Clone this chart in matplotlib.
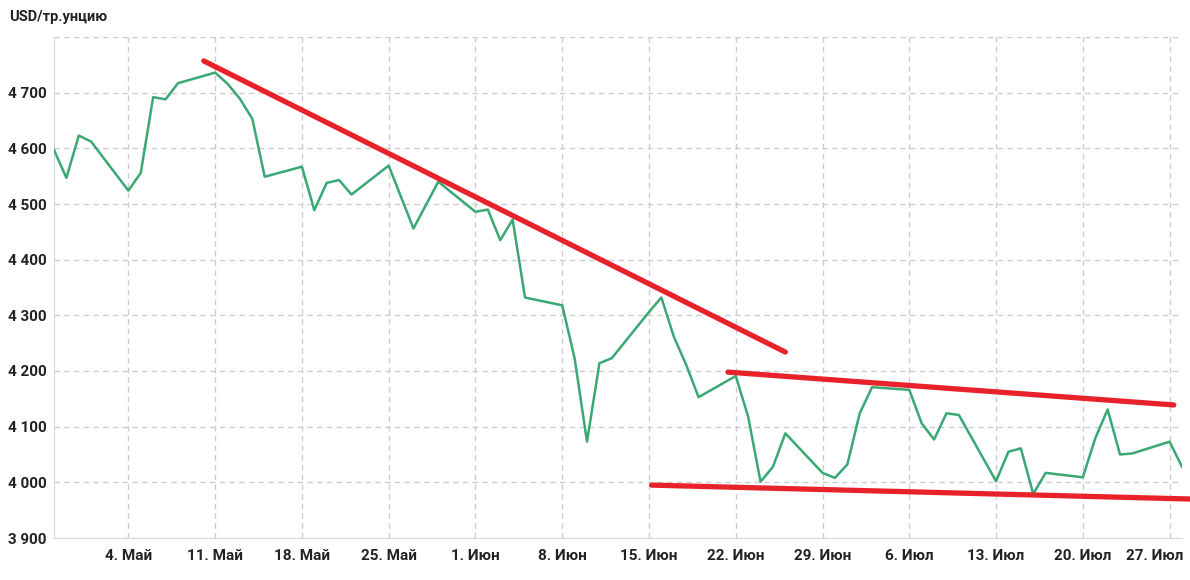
import matplotlib
matplotlib.use("Agg")
import matplotlib.pyplot as plt
import matplotlib.transforms as mtransforms
import pandas as pd

# ---- data ----
dates = ["2026-04-28", "2026-04-29", "2026-04-30", "2026-05-01",
         "2026-05-04", "2026-05-05", "2026-05-06", "2026-05-07", "2026-05-08",
         "2026-05-11", "2026-05-12", "2026-05-13", "2026-05-14", "2026-05-15",
         "2026-05-18", "2026-05-19", "2026-05-20", "2026-05-21", "2026-05-22",
         "2026-05-25", "2026-05-27", "2026-05-29",
         "2026-06-01", "2026-06-02", "2026-06-03", "2026-06-04", "2026-06-05",
         "2026-06-08", "2026-06-09", "2026-06-10", "2026-06-11", "2026-06-12",
         "2026-06-15", "2026-06-16", "2026-06-17", "2026-06-18", "2026-06-19",
         "2026-06-22", "2026-06-23", "2026-06-24", "2026-06-25", "2026-06-26",
         "2026-06-29", "2026-06-30", "2026-07-01", "2026-07-02", "2026-07-03",
         "2026-07-06", "2026-07-07", "2026-07-08", "2026-07-09", "2026-07-10",
         "2026-07-13", "2026-07-14", "2026-07-15", "2026-07-16", "2026-07-17",
         "2026-07-20", "2026-07-21", "2026-07-22", "2026-07-23", "2026-07-24",
         "2026-07-27", "2026-07-28"]
prices = [4597, 4547, 4623, 4612,
          4524, 4556, 4692, 4688, 4717,
          4736, 4716, 4689, 4653, 4549,
          4567, 4489, 4538, 4543, 4517,
          4569, 4456, 4540,
          4486, 4490, 4435, 4472, 4332,
          4318, 4223, 4073, 4214, 4223,
          4306, 4332, 4262, 4211, 4153,
          4191, 4118, 4001, 4028, 4088,
          4017, 4008, 4032, 4124, 4171,
          4166, 4106, 4077, 4124, 4121,
          4002, 4055, 4061, 3979, 4017,
          4009, 4079, 4131, 4050, 4052,
          4073, 4028]

# trend lines (start date, end date) and (start value, end value)
trend_dates = [["2026-05-10 02:00", "2026-06-26 00:00"],
               ["2026-06-21 09:00", "2026-07-27 08:00"],
               ["2026-06-15 05:00", "2026-07-28 16:00"]]
trend_values = [[4757, 4234],
                [4198, 4139],
                [3995, 3970]]

tick_dates = ["2026-05-04", "2026-05-11", "2026-05-18", "2026-05-25",
              "2026-06-01", "2026-06-08", "2026-06-15", "2026-06-22",
              "2026-06-29", "2026-07-06", "2026-07-13", "2026-07-20",
              "2026-07-27"]
tick_labels = ["4. Май", "11. Май", "18. Май", "25. Май", "1. Июн", "8. Июн",
               "15. Июн", "22. Июн", "29. Июн", "6. Июл", "13. Июл",
               "20. Июл", "27. Июл"]
y_ticks = [3900, 4000, 4100, 4200, 4300, 4400, 4500, 4600, 4700]
y_labels = ["3 900", "4 000", "4 100", "4 200", "4 300", "4 400", "4 500",
            "4 600", "4 700"]
y_label_text = "USD/тр.унцию"

# ---- plot ----
plt.rcParams['font.family'] = ['Roboto', 'DejaVu Sans']
fig = plt.figure(figsize=(11.9, 5.8), dpi=100)
ax = fig.add_axes([54/1190, 42/580, (1182-54)/1190, (538-37)/580])

x = pd.to_datetime(dates)
ax.plot(x, prices, color="#3aa874", lw=1.8, zorder=3)

for td, tv in zip(trend_dates, trend_values):
    ax.plot(pd.to_datetime(td, format="%Y-%m-%d %H:%M"), tv, color="#e8222b",
            lw=3.8, solid_capstyle="round", zorder=4, clip_on=False)

ax.set_xlim(pd.Timestamp("2026-04-28"), pd.Timestamp("2026-07-28"))
ax.set_ylim(3900, 4800)

ax.set_xticks(pd.to_datetime(tick_dates))
ax.set_xticklabels(tick_labels, fontsize=11, fontweight="bold", color="#222222")
ax.set_yticks(y_ticks)
ax.set_yticklabels(y_labels, fontsize=11, fontweight="bold", color="#222222")
ax.set_yticks([4800], minor=True)
ax.tick_params(axis="both", which="both", length=0)
ax.tick_params(axis="x", pad=8)
ax.tick_params(axis="y", pad=5.5)

# keep the last x label inside the figure, as in the reference
last = ax.get_xticklabels()[-1]
last.set_transform(last.get_transform() +
                   mtransforms.ScaledTranslation(-0.15, 0, fig.dpi_scale_trans))

ax.grid(True, which="both", axis="y", color="#cccccc", ls=(0, (4, 3)), lw=1)
ax.grid(True, which="major", axis="x", color="#cccccc", ls=(0, (4, 3)), lw=1)
ax.set_axisbelow(True)

for s in ["top", "right"]:
    ax.spines[s].set_visible(False)
ax.spines["left"].set_color("#d8d8d8")
ax.spines["bottom"].set_color("#d8d8d8")

fig.text(9/1190, 1 - 17/580, y_label_text, fontsize=10.5, fontweight="bold",
         color="#222222", va="center", ha="left")

fig.savefig("out.png", dpi=100)
